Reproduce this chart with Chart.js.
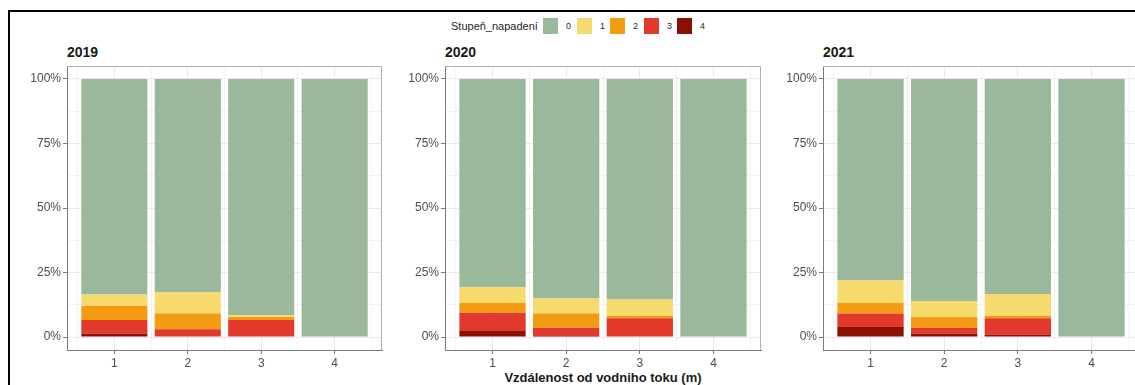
<!DOCTYPE html>
<html><head><meta charset="utf-8">
<script src="https://cdn.jsdelivr.net/npm/chart.js@4.4.1/dist/chart.umd.min.js"></script>
<style>
html,body{margin:0;padding:0;width:1135px;height:385px;overflow:hidden;background:#fff;font-family:"Liberation Sans",Arial,sans-serif;}
#frame{position:absolute;left:8px;top:10px;width:1300px;height:500px;border-left:2px solid #000;border-top:2px solid #000;}
canvas{position:absolute;top:0;}
.ftitle{position:absolute;top:45px;font-weight:bold;font-size:14px;line-height:14px;color:#1a1a1a;}
#xtitle{position:absolute;top:371px;left:503px;width:200px;text-align:center;font-weight:bold;font-size:13px;line-height:14px;color:#1a1a1a;white-space:nowrap;}
.lg-title{position:absolute;left:451px;top:20px;font-size:11px;line-height:12px;color:#262626;white-space:nowrap;}
.sw{position:absolute;top:18px;width:15px;height:16px;}
.lb{position:absolute;top:21px;font-size:9px;line-height:10px;color:#262626;}
</style>
</head><body>
<div id="frame"></div>
<div class="lg-title">Stupeň_napadení</div>
<div id="legend"></div>
<div id="titles"></div>
<div id="xtitle">Vzdálenost od vodniho toku (m)</div>
<script>
// ---- data ----
const years = ['2019', '2020', '2021'];
const distances = [1, 2, 3, 4];
const levels = ['0', '1', '2', '3', '4'];
const levelColors = ['#9ab89b', '#f6da6d', '#f39c13', '#e1392b', '#8b1001'];
const yTickValues = [0, 12.5, 25, 37.5, 50, 62.5, 75, 87.5, 100];
const xTickValues = [0.5, 1, 1.5, 2, 2.5, 3, 3.5, 4, 4.5];

// percent share per distance (1..4), per level
const y2019_l0 = [83.5, 82.6, 91.5, 100];
const y2019_l1 = [4.5, 8.3, 0.7, 0];
const y2019_l2 = [5.4, 6.1, 1.2, 0];
const y2019_l3 = [5.3, 3.0, 6.6, 0];
const y2019_l4 = [1.3, 0, 0, 0];

const y2020_l0 = [80.7, 85.1, 85.4, 100];
const y2020_l1 = [6.1, 5.8, 6.4, 0];
const y2020_l2 = [3.8, 5.5, 0.9, 0];
const y2020_l3 = [7.0, 3.2, 7.3, 0];
const y2020_l4 = [2.4, 0.4, 0, 0];

const y2021_l0 = [78.1, 86.0, 83.3, 100];
const y2021_l1 = [8.7, 6.2, 8.5, 0];
const y2021_l2 = [4.1, 4.2, 0.9, 0];
const y2021_l3 = [5.2, 2.3, 6.4, 0];
const y2021_l4 = [3.9, 1.3, 0.9, 0];

const seriesByYear = {
  '2019': [y2019_l0, y2019_l1, y2019_l2, y2019_l3, y2019_l4],
  '2020': [y2020_l0, y2020_l1, y2020_l2, y2020_l3, y2020_l4],
  '2021': [y2021_l0, y2021_l1, y2021_l2, y2021_l3, y2021_l4]
};

// ---- layout ----
const panelLeft = [67, 445, 823];
const panelWidth = [315, 316, 316];
const axisW = 60, plotTop = 66, plotBottom = 350, H = 385;

// legend
const legend = document.getElementById('legend');
const swX = [543, 577, 610, 644, 677];
levels.forEach((lv, i) => {
  const s = document.createElement('div');
  s.className = 'sw'; s.style.left = swX[i] + 'px'; s.style.background = levelColors[i];
  legend.appendChild(s);
  const t = document.createElement('div');
  t.className = 'lb'; t.style.left = (swX[i] + 23) + 'px'; t.textContent = lv;
  legend.appendChild(t);
});

const framePlugin = {
  id: 'frameTR',
  afterDraw(chart) {
    const { ctx, chartArea: a } = chart;
    ctx.save();
    ctx.strokeStyle = '#b0b0b0'; ctx.lineWidth = 1;
    ctx.beginPath();
    ctx.moveTo(a.left, a.top + 0.5);
    ctx.lineTo(a.right - 0.5, a.top + 0.5);
    ctx.lineTo(a.right - 0.5, a.bottom);
    ctx.stroke();
    ctx.restore();
  }
};

Chart.defaults.font.family = '"Liberation Sans", Arial, sans-serif';

const isMajorX = c => c.tick && Number.isInteger(c.tick.value);
const isMajorY = c => c.tick && (c.tick.value % 25 === 0);

years.forEach((yr, p) => {
  const cv = document.createElement('canvas');
  const w = axisW + panelWidth[p] + 2;
  cv.width = w; cv.height = H;
  cv.style.left = (panelLeft[p] - axisW) + 'px';
  document.body.appendChild(cv);

  const tt = document.createElement('div');
  tt.className = 'ftitle'; tt.style.left = panelLeft[p] + 'px'; tt.textContent = yr;
  document.getElementById('titles').appendChild(tt);

  const series = seriesByYear[yr];
  // draw order: level 4 at bottom, level 0 on top
  const datasets = [];
  for (let i = levels.length - 1; i >= 0; i--) {
    datasets.push({
      label: levels[i],
      data: distances.map((d, k) => ({ x: d, y: series[i][k] })),
      backgroundColor: levelColors[i],
      borderWidth: 0,
      categoryPercentage: 1,
      barPercentage: 1.8,
      stack: 's'
    });
  }

  new Chart(cv, {
    type: 'bar',
    data: { datasets },
    plugins: [framePlugin],
    options: {
      responsive: false,
      animation: false,
      layout: { padding: { top: plotTop, bottom: 0, left: 0, right: 2 } },
      plugins: { legend: { display: false }, tooltip: { enabled: false }, title: { display: false } },
      scales: {
        x: {
          type: 'linear', stacked: true, min: 0.355, max: 4.645, offset: false,
          afterBuildTicks: s => { s.ticks = xTickValues.map(v => ({ value: v })); },
          afterFit: s => { s.height = H - plotBottom; },
          ticks: {
            autoSkip: false, maxRotation: 0, padding: 2,
            color: '#4d4d4d', font: { size: 12 },
            callback: v => Number.isInteger(v) ? String(v) : ''
          },
          grid: {
            offset: false,
            color: c => isMajorX(c) ? '#ebebeb' : '#f3f3f3',
            lineWidth: 1, tickLength: 4,
            tickColor: c => isMajorX(c) ? '#7a7a7a' : 'rgba(0,0,0,0)'
          },
          border: { display: true, color: '#7a7a7a', width: 1 }
        },
        y: {
          stacked: true, min: -5, max: 105,
          afterBuildTicks: s => { s.ticks = yTickValues.map(v => ({ value: v })); },
          afterFit: s => { s.width = axisW; },
          ticks: {
            autoSkip: false, padding: 2,
            color: '#4d4d4d', font: { size: 12 },
            callback: v => (v % 25 === 0) ? v + '%' : ''
          },
          grid: {
            color: c => isMajorY(c) ? '#ebebeb' : '#f3f3f3',
            lineWidth: 1, tickLength: 4,
            tickColor: c => isMajorY(c) ? '#7a7a7a' : 'rgba(0,0,0,0)'
          },
          border: { display: true, color: '#7a7a7a', width: 1 }
        }
      }
    }
  });
});
</script>
</body></html>
